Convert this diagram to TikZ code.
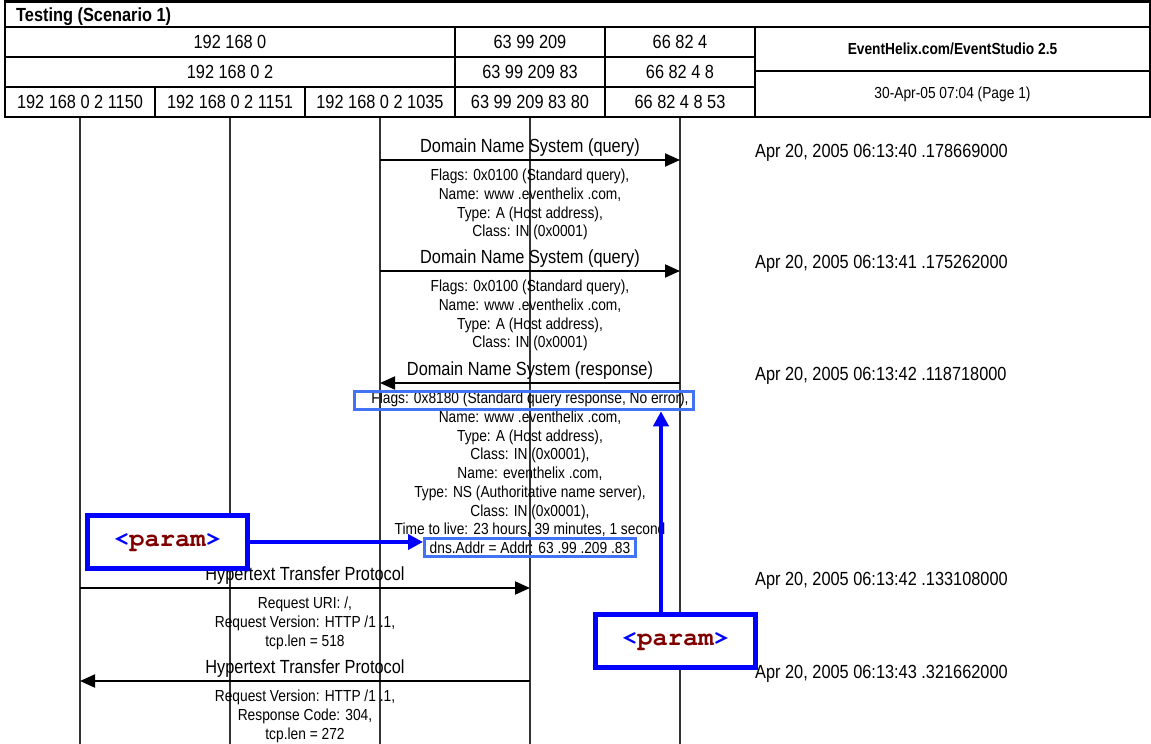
\documentclass[tikz,border=0pt]{standalone}
\usepackage[T1,TU]{fontenc}
\usepackage{fontspec}
\setmainfont{Liberation Sans}[FakeStretch=0.86]
\usepackage{tikz}
\usetikzlibrary{arrows.meta}
\definecolor{hiblue}{RGB}{66,115,245}
\definecolor{tagred}{RGB}{128,0,0}
\newcommand{\hdrfont}{\fontsize{19}{22}\selectfont}
\newcommand{\parfont}{\fontsize{16}{18.7}\selectfont}
\newcommand{\smallfont}{\fontsize{16}{18}\selectfont}
\newcommand{\paramtag}{{\fontencoding{T1}\fontfamily{pcr}\fontseries{b}\fontshape{n}\fontsize{25.5}{26}\selectfont
  \textcolor{blue}{<}\textcolor{tagred}{param}\textcolor{blue}{>}}}

\begin{document}
\begin{tikzpicture}[x=1pt,y=-1pt,>={Triangle[length=15pt,width=13pt]},
  cell/.style={draw,line width=2.7pt,inner sep=0pt,minimum height=30pt,font=\hdrfont},
  life/.style={line width=1.2pt,black!80},
  msg/.style={->,line width=2pt},
  lbl/.style={anchor=base,font=\hdrfont},
  par/.style={anchor=north,align=center,inner sep=0pt,font=\parfont},
  ts/.style={anchor=base west,inner sep=0pt,font=\hdrfont},
  hibox/.style={draw=hiblue,line width=3pt,inner sep=0pt},
  tagbox/.style={draw=blue,fill=white,line width=5pt,minimum width=160pt,minimum height=53pt,inner sep=0pt},
  tagarrow/.style={draw=blue,line width=4.5pt,-{Triangle[length=15pt,width=15pt]}}]
  \useasboundingbox (0,0) rectangle (1151,744);
  \node[cell,minimum width=1145pt,minimum height=25.5pt] (top) at (577.5,14.25) {};
  \node[anchor=base west,inner sep=0pt,font=\bfseries\hdrfont] (title) at (16,21) {Testing (Scenario 1)};
  \node[cell,minimum width=450pt] (n1) at (230,42) {192 168 0};
  \node[cell,minimum width=150pt] (n2) at (530,42) {63 99 209};
  \node[cell,minimum width=150pt] (n3) at (680,42) {66 82 4};
  \node[cell,minimum width=450pt] (s1) at (230,72) {192 168 0 2};
  \node[cell,minimum width=150pt] (s2) at (530,72) {63 99 209 83};
  \node[cell,minimum width=150pt] (s3) at (680,72) {66 82 4 8};
  \node[cell,minimum width=150pt] (h1) at (80,102) {192 168 0 2 1150};
  \node[cell,minimum width=150pt] (h2) at (230,102) {192 168 0 2 1151};
  \node[cell,minimum width=150pt] (h3) at (380,102) {192 168 0 2 1035};
  \node[cell,minimum width=150pt] (h4) at (530,102) {63 99 209 83 80};
  \node[cell,minimum width=150pt] (h5) at (680,102) {66 82 4 8 53};
  \node[cell,minimum width=395pt,minimum height=44pt,font=\bfseries\smallfont] (tool) at (952.5,49) {EventHelix.com/EventStudio 2.5};
  \node[cell,minimum width=395pt,minimum height=46pt,font=\smallfont] (date) at (952.5,94) {30-Apr-05 07:04 (Page 1)};

  \foreach \i in {1,...,5}
    \draw[life] (h\i.south) -- (h\i.south |- 0,744);

  \draw[msg] (h3 |- 0,160) -- (h5 |- 0,160);
  \node[lbl] (l1) at (530,152) {Domain Name System (query)};
  \node[par] (p1) at (530,169) {Flags: 0x0100 (Standard query),\\Name: www .eventhelix .com,\\Type: A (Host address),\\Class: IN (0x0001)};
  \node[ts] (t1) at (755,157) {Apr 20, 2005 06:13:40 .178669000};

  \draw[msg] (h3 |- 0,271) -- (h5 |- 0,271);
  \node[lbl] (l2) at (530,263) {Domain Name System (query)};
  \node[par] (p2) at (530,280) {Flags: 0x0100 (Standard query),\\Name: www .eventhelix .com,\\Type: A (Host address),\\Class: IN (0x0001)};
  \node[ts] (t2) at (755,268) {Apr 20, 2005 06:13:41 .175262000};

  \draw[msg] (h5 |- 0,383) -- (h3 |- 0,383);
  \node[lbl] (l3) at (530,375) {Domain Name System (response)};
  \node[par] (p3) at (530,392) {Flags: 0x8180 (Standard query response, No error),\\Name: www .eventhelix .com,\\Type: A (Host address),\\Class: IN (0x0001),\\Name: eventhelix .com,\\Type: NS (Authoritative name server),\\Class: IN (0x0001),\\Time to live: 23 hours, 39 minutes, 1 second\\dns.Addr = Addr: 63 .99 .209 .83};
  \node[ts] (t3) at (755,380) {Apr 20, 2005 06:13:42 .118718000};

  \draw[msg] (h1 |- 0,588) -- (h4 |- 0,588);
  \node[lbl] (l4) at (305,580) {Hypertext Transfer Protocol};
  \node[par] (p4) at (305,597) {Request URI: /,\\Request Version: HTTP /1 .1,\\tcp.len = 518};
  \node[ts] (t4) at (755,585) {Apr 20, 2005 06:13:42 .133108000};

  \draw[msg] (h4 |- 0,681) -- (h1 |- 0,681);
  \node[lbl] (l5) at (305,673) {Hypertext Transfer Protocol};
  \node[par] (p5) at (305,690) {Request Version: HTTP /1 .1,\\Response Code: 304,\\tcp.len = 272};
  \node[ts] (t5) at (755,678) {Apr 20, 2005 06:13:43 .321662000};

  \node[hibox,minimum width=339pt,minimum height=18.5pt] (flagbox) at (524,400.5) {};
  \node[hibox,minimum width=211pt,minimum height=18pt] (dnsbox) at (530,547.5) {};
  \node[tagbox] (taga) at (167.5,542) {\paramtag};
  \node[tagbox] (tagb) at (675.5,640.5) {\paramtag};
  \draw[tagarrow] (taga.east) -- (taga.east -| dnsbox.west);
  \draw[tagarrow] ([xshift=-14.5pt]tagb.north) -- ([xshift=-14.5pt]tagb.north |- flagbox.south);
\end{tikzpicture}
\end{document}
